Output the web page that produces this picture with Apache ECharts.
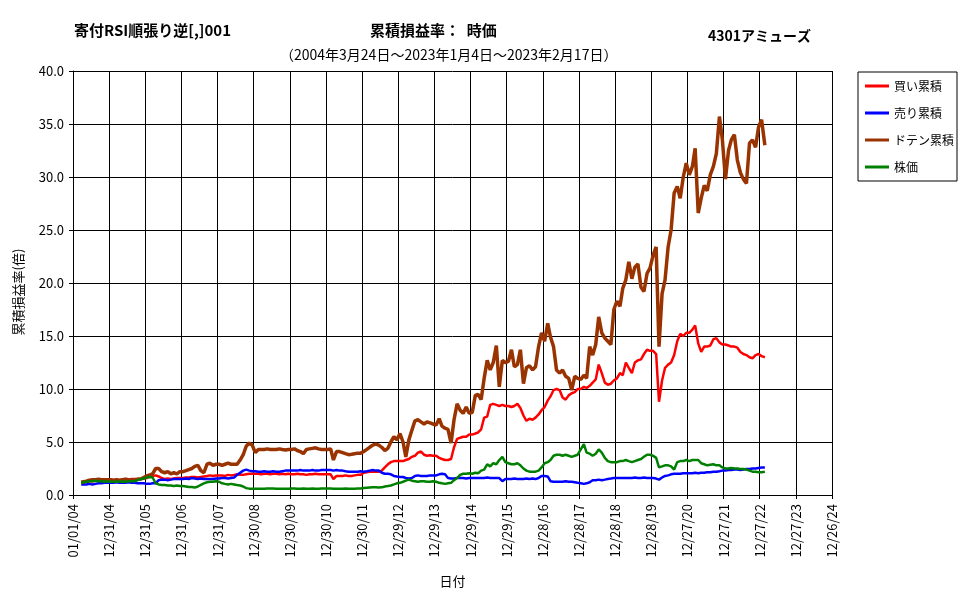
<!DOCTYPE html>
<html>
<head>
<meta charset="utf-8">
<script src="https://cdn.jsdelivr.net/npm/echarts@6/dist/echarts.min.js"></script>
<style>html,body{margin:0;padding:0;background:#fff}#c{width:970px;height:600px}</style>
</head>
<body>
<div id="c"></div>
<script>
const FONT = '"Noto Sans CJK JP", "Noto Sans", sans-serif';
const seriesNames = ['買い累積', '売り累積', 'ドテン累積', '株価'];
const seriesColors = ['#FF0000', '#0000FF', '#993300', '#008000'];
const xTickLabels = ['01/01/04','12/31/04','12/31/05','12/31/06','12/31/07','12/30/08','12/30/09','12/30/10','12/30/11','12/29/12','12/29/13','12/29/14','12/29/15','12/28/16','12/28/17','12/28/18','12/28/19','12/27/20','12/27/21','12/27/22','12/27/23','12/26/24'];
const yTickLabels = ['0.0','5.0','10.0','15.0','20.0','25.0','30.0','35.0','40.0'];
const axisOrigin = '2004-01-01';

// sample dates: start, mid-month points, end
const dates = ['2004-03-24'];
for (let y = 2004; y <= 2023; y++) {
  for (let m = 1; m <= 12; m++) {
    if ((y === 2004 && m < 4) || (y === 2023 && m > 1)) continue;
    dates.push(y + '-' + String(m).padStart(2, '0') + '-15');
  }
}
dates.push('2023-02-17');

const buyCum = [
  1.2,1.2,1.25,1.3,1.3,1.35,1.4,1.4,1.4,1.45,
  1.45,1.4,1.45,1.4,1.45,1.5,1.45,1.5,1.5,1.45,1.5,1.55,
  1.6,1.75,1.8,1.85,1.75,1.6,1.5,1.55,1.5,1.55,1.6,1.6,
  1.6,1.65,1.65,1.7,1.7,1.65,1.7,1.75,1.8,1.85,1.8,1.85,
  1.85,1.85,1.8,1.9,1.85,1.9,1.95,1.9,1.9,1.95,2.0,2.0,
  2.0,2.0,1.95,2.0,2.0,1.95,2.0,2.0,1.95,2.0,1.95,2.0,
  1.95,1.95,2.0,1.95,1.95,1.9,1.95,1.95,2.0,1.95,1.95,1.95,
  1.95,1.95,1.5,1.8,1.8,1.8,1.85,1.8,1.8,1.85,1.9,1.9,
  2.1,2.15,2.2,2.2,2.2,2.2,2.3,2.6,2.9,3.1,3.2,3.2,
  3.2,3.2,3.3,3.4,3.6,3.7,4.0,4.1,3.8,3.7,3.75,3.7,
  3.7,3.5,3.4,3.3,3.3,3.4,4.5,5.3,5.4,5.5,5.5,5.7,
  5.7,5.8,5.9,6.2,7.3,7.4,8.5,8.6,8.5,8.4,8.5,8.4,
  8.4,8.3,8.4,8.6,8.2,7.5,7.0,7.2,7.1,7.3,7.6,8.0,
  8.3,8.9,9.3,9.9,10.0,9.9,9.2,9.0,9.4,9.6,9.7,10.0,
  10.0,10.2,10.1,10.3,10.6,10.9,12.3,11.5,10.6,10.4,10.5,10.8,
  11.0,11.5,11.3,12.5,12.0,11.5,12.5,12.7,12.8,13.3,13.7,13.6,
  13.6,13.3,8.8,10.8,12.0,12.3,12.5,13.2,14.5,15.2,15.0,15.3,
  15.3,15.6,16.0,14.3,13.5,14.0,14.0,14.1,14.7,14.8,14.4,14.2,
  14.2,14.1,14.0,14.0,13.9,13.5,13.3,13.2,13.0,12.9,13.2,13.3,
  13.1,13.0
];
const sellCum = [
  1.0,1.0,1.0,1.05,1.0,1.05,1.1,1.1,1.15,1.15,
  1.15,1.15,1.2,1.15,1.15,1.15,1.2,1.15,1.15,1.1,1.1,1.1,
  1.05,1.05,1.1,1.1,1.4,1.45,1.45,1.4,1.45,1.5,1.5,1.5,
  1.5,1.55,1.5,1.6,1.55,1.5,1.55,1.5,1.5,1.5,1.5,1.55,
  1.55,1.6,1.6,1.55,1.6,1.65,1.9,2.1,2.3,2.4,2.3,2.25,
  2.25,2.2,2.2,2.25,2.2,2.2,2.25,2.2,2.2,2.25,2.3,2.3,
  2.3,2.3,2.3,2.35,2.3,2.3,2.3,2.35,2.3,2.3,2.35,2.35,
  2.35,2.35,2.3,2.35,2.3,2.3,2.25,2.2,2.2,2.2,2.2,2.25,
  2.2,2.25,2.3,2.35,2.3,2.3,2.1,2.0,2.0,1.95,1.8,1.75,
  1.7,1.7,1.6,1.55,1.6,1.8,1.85,1.8,1.8,1.8,1.85,1.85,
  1.85,1.95,2.0,1.95,1.6,1.55,1.55,1.6,1.6,1.6,1.55,1.6,
  1.6,1.6,1.6,1.6,1.6,1.65,1.6,1.6,1.6,1.6,1.3,1.5,
  1.5,1.5,1.55,1.5,1.5,1.5,1.55,1.5,1.55,1.5,1.6,1.8,
  1.8,1.75,1.3,1.25,1.25,1.25,1.25,1.3,1.25,1.25,1.2,1.15,
  1.1,1.05,1.1,1.2,1.4,1.4,1.45,1.4,1.45,1.5,1.55,1.6,
  1.6,1.6,1.6,1.6,1.6,1.6,1.65,1.6,1.6,1.65,1.6,1.6,
  1.6,1.55,1.45,1.65,1.8,1.85,1.95,2.0,2.0,2.0,2.05,2.05,
  2.05,2.05,2.1,2.05,2.1,2.1,2.15,2.15,2.2,2.2,2.25,2.3,
  2.3,2.35,2.35,2.4,2.4,2.35,2.4,2.45,2.45,2.5,2.5,2.55,
  2.6,2.6
];
const dotenCum = [
  1.2,1.25,1.3,1.4,1.45,1.45,1.5,1.45,1.45,1.45,
  1.45,1.4,1.45,1.4,1.45,1.5,1.45,1.4,1.45,1.5,1.5,1.65,
  1.8,1.9,2.0,2.5,2.5,2.2,2.1,2.2,2.0,2.1,2.0,2.2,
  2.2,2.3,2.4,2.5,2.7,2.8,2.3,2.1,2.9,3.0,2.8,2.9,
  2.9,2.8,2.9,3.0,2.9,2.9,2.9,3.3,3.8,4.6,4.9,4.7,
  4.0,4.3,4.3,4.3,4.35,4.3,4.3,4.3,4.35,4.3,4.25,4.3,
  4.3,4.35,4.2,4.1,3.9,4.3,4.35,4.4,4.45,4.35,4.3,4.3,
  4.3,4.35,3.3,4.1,4.1,4.0,3.9,3.8,3.85,3.9,3.95,3.95,
  4.1,4.3,4.5,4.7,4.8,4.7,4.5,4.2,4.4,5.0,5.5,5.2,
  5.8,5.0,3.6,5.2,6.1,7.0,7.1,6.9,6.7,6.9,6.8,6.7,
  6.6,7.2,6.5,6.3,6.2,4.9,7.1,8.6,8.0,7.7,8.3,7.7,
  7.8,9.4,9.5,9.0,11.0,12.7,11.8,12.5,14.1,10.2,12.7,12.5,
  12.6,13.7,12.1,12.3,13.7,10.5,12.0,12.2,11.8,12.1,14.0,15.3,
  14.5,16.2,14.9,14.0,11.8,11.5,11.8,11.2,11.0,9.9,11.2,11.0,
  10.9,11.3,11.0,14.0,13.2,14.2,16.8,15.3,14.8,14.5,14.2,17.5,
  18.3,17.8,19.5,20.3,22.0,20.4,21.5,21.8,19.6,19.2,20.9,21.4,
  22.6,23.4,14.0,19.0,20.3,23.4,25.0,28.5,29.1,28.0,30.0,31.3,
  30.2,31.0,32.7,26.6,28.0,29.2,28.7,30.2,31.0,32.2,35.7,33.5,
  29.8,32.5,33.5,34.0,31.6,30.4,29.8,29.4,33.2,33.5,32.8,34.7,
  35.4,33.0
];
const stockPrice = [
  1.15,1.2,1.25,1.3,1.3,1.35,1.3,1.3,1.25,1.3,
  1.25,1.25,1.25,1.3,1.25,1.25,1.3,1.3,1.3,1.4,1.5,1.55,
  1.65,1.7,1.65,1.1,1.0,0.95,0.95,0.9,0.9,0.85,0.9,0.85,
  0.85,0.8,0.75,0.75,0.7,0.8,0.95,1.1,1.2,1.25,1.25,1.3,
  1.25,1.1,1.05,1.0,1.05,1.0,0.95,0.9,0.8,0.65,0.6,0.6,
  0.6,0.6,0.6,0.6,0.62,0.62,0.62,0.6,0.6,0.6,0.6,0.6,
  0.62,0.62,0.6,0.6,0.62,0.6,0.6,0.62,0.6,0.6,0.62,0.62,
  0.62,0.62,0.58,0.6,0.6,0.6,0.62,0.6,0.6,0.6,0.62,0.62,
  0.65,0.68,0.7,0.72,0.72,0.7,0.72,0.8,0.85,0.9,1.0,1.1,
  1.15,1.25,1.35,1.45,1.35,1.3,1.25,1.3,1.3,1.25,1.25,1.3,
  1.25,1.15,1.1,1.05,1.1,1.15,1.4,1.6,1.9,2.0,2.0,2.05,
  2.0,2.1,2.05,2.3,2.4,2.9,2.7,3.0,2.9,3.3,3.6,3.1,
  3.0,2.9,2.9,3.0,2.8,2.5,2.3,2.2,2.2,2.2,2.3,2.6,
  3.0,3.1,3.3,3.7,3.8,3.8,3.7,3.8,3.7,3.6,3.7,3.8,
  4.3,4.8,4.0,3.9,3.7,3.9,4.3,4.0,3.5,3.2,3.1,3.1,
  3.1,3.2,3.2,3.3,3.2,3.1,3.2,3.3,3.4,3.6,3.8,3.8,
  3.7,3.5,2.6,2.7,2.8,2.8,2.7,2.4,3.1,3.2,3.2,3.3,
  3.2,3.3,3.3,3.3,3.0,2.9,2.8,2.85,2.9,2.8,2.8,2.6,
  2.5,2.5,2.55,2.5,2.5,2.45,2.45,2.4,2.3,2.2,2.2,2.15,
  2.15,2.2
];

function dayOffset(s) {
  const p = s.split('-').map(Number);
  const o = axisOrigin.split('-').map(Number);
  return (Date.UTC(p[0], p[1] - 1, p[2]) - Date.UTC(o[0], o[1] - 1, o[2])) / 86400000;
}
const xs = dates.map(dayOffset);
const allValues = [buyCum, sellCum, dotenCum, stockPrice];

const chart = echarts.init(document.getElementById('c'), null, {renderer: 'canvas'});
chart.setOption({
  animation: false,
  backgroundColor: '#fff',
  textStyle: {fontFamily: FONT, color: '#000'},
  title: [
    {text: '寄付RSI順張り逆[,]001', left: 74, top: 23, padding: 0, textStyle: {fontFamily: FONT, fontSize: 15, fontWeight: 'bold', color: '#000'}},
    {text: '累積損益率：  時価', left: 370, top: 23, padding: 0, textStyle: {fontFamily: FONT, fontSize: 15, fontWeight: 'bold', color: '#000'}},
    {text: '4301アミューズ', left: 708, top: 29, padding: 0, textStyle: {fontFamily: FONT, fontSize: 14, fontWeight: 'bold', color: '#000'}},
    {text: '（2004年3月24日～2023年1月4日～2023年2月17日）', left: 280, top: 48, padding: 0, textStyle: {fontFamily: FONT, fontSize: 14, fontWeight: 'normal', color: '#000'}}
  ],
  graphic: [{
    type: 'text', x: 18, y: 292, rotation: Math.PI / 2,
    style: {text: '累積損益率(倍)', font: '13px ' + FONT, fill: '#000', textAlign: 'center', textVerticalAlign: 'middle'}
  }],
  legend: {
    orient: 'vertical', left: 858, top: 72,
    padding: [7, 3, 7, 7], itemGap: 13, itemWidth: 24, itemHeight: 3,
    borderColor: '#000', borderWidth: 1, backgroundColor: '#fff',
    textStyle: {fontFamily: FONT, fontSize: 12, color: '#000', lineHeight: 14},
    data: seriesNames.map(n => ({name: n, icon: 'rect'}))
  },
  grid: {left: 73, right: 138, top: 71, bottom: 105, containLabel: false},
  xAxis: {
    type: 'value', min: 0, max: 365 * (xTickLabels.length - 1), interval: 365,
    name: '日付', nameLocation: 'middle', nameGap: 80,
    nameTextStyle: {fontFamily: FONT, fontSize: 13, color: '#000'},
    axisLine: {show: true, lineStyle: {color: '#000', width: 1}},
    axisTick: {show: true, length: 4, lineStyle: {color: '#000'}},
    axisLabel: {rotate: 90, margin: 9, fontFamily: FONT, fontSize: 13, color: '#000',
      formatter: v => xTickLabels[Math.round(v / 365)] || ''},
    splitLine: {show: true, lineStyle: {color: '#000', width: 1}}
  },
  yAxis: {
    type: 'value', min: 0, max: 40, interval: 5,
    axisLine: {show: true, lineStyle: {color: '#000', width: 1}},
    axisTick: {show: true, length: 4, lineStyle: {color: '#000'}},
    axisLabel: {margin: 9, fontFamily: FONT, fontSize: 13, color: '#000',
      formatter: v => yTickLabels[Math.round(v / 5)]},
    splitLine: {show: true, lineStyle: {color: '#000', width: 1}}
  },
  series: seriesNames.map((n, i) => ({
    name: n, type: 'line', showSymbol: false, symbol: 'none',
    color: seriesColors[i],
    lineStyle: {color: seriesColors[i], width: i === 2 ? 3.5 : 2.5},
    data: xs.map((x, k) => [x, allValues[i][k]])
  }))
});
</script>
</body>
</html>
